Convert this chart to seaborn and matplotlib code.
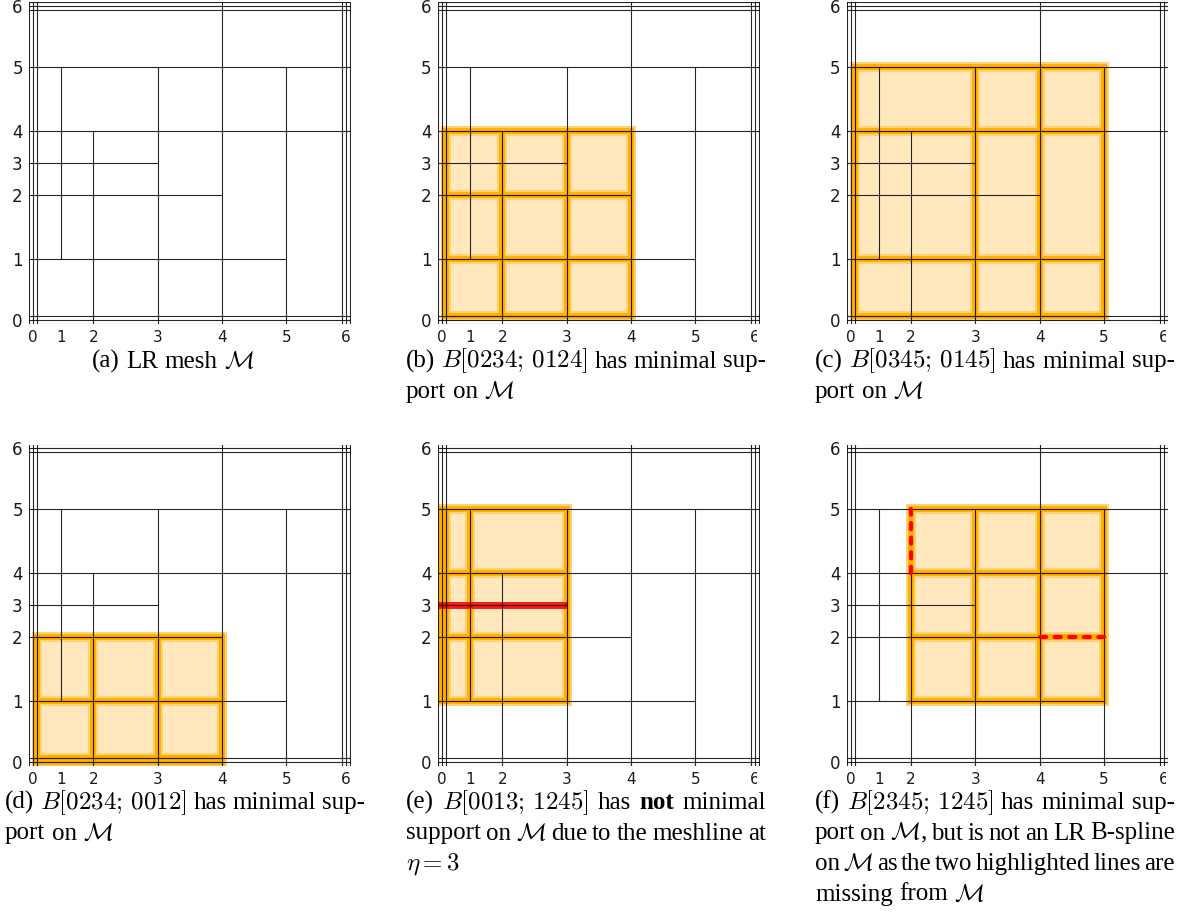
import numpy as np
import pandas as pd
import matplotlib
matplotlib.use("Agg")
import matplotlib.pyplot as plt
from matplotlib.patches import Rectangle
from matplotlib.transforms import Bbox, TransformedBbox
import seaborn as sns

# ---------------------------------------------------------------- data
# knot values of the LR mesh on [0,6] x [0,6]
knots = [0, 1, 2, 3, 4, 5, 6]
tick_labels = ["0", "1", "2", "3", "4", "5", "6"]

# horizontal meshlines: eta value, xi start, xi end
h_eta = [0, 1, 2, 3, 4, 5, 6]
h_from = [0, 0, 0, 0, 0, 0, 0]
h_to = [6, 5, 4, 3, 6, 6, 6]
# vertical meshlines: xi value, eta start, eta end
v_xi = [0, 1, 2, 3, 4, 5, 6]
v_from = [0, 1, 0, 0, 0, 0, 0]
v_to = [6, 5, 4, 5, 6, 5, 6]
boundary_multiplicity = 3

# local knot vectors of the B-spline shown in each panel (a has none)
spline_xi = [None, [0, 2, 3, 4], [0, 3, 4, 5], [0, 2, 3, 4], [0, 0, 1, 3], [2, 3, 4, 5]]
spline_eta = [None, [0, 1, 2, 4], [0, 1, 4, 5], [0, 0, 1, 2], [1, 2, 4, 5], [1, 2, 4, 5]]

# meshline at eta = 3 crossing the support in (e)
crossing_eta = 3
crossing_xi = [0, 3]
# lines missing from the mesh in (f): (xi start, xi end, eta start, eta end)
missing_xi0 = [2, 4]
missing_xi1 = [2, 5]
missing_eta0 = [4, 2]
missing_eta1 = [5, 2]

captions = [
    ["(a) LR mesh $\\mathcal{M}$"],
    ["(b) $B[0234;\\,0124]$ has minimal sup-", "port on $\\mathcal{M}$"],
    ["(c) $B[0345;\\,0145]$ has minimal sup-", "port on $\\mathcal{M}$"],
    ["(d) $B[0234;\\,0012]$ has minimal sup-", "port on $\\mathcal{M}$"],
    ["(e) $B[0013;\\,1245]$ has **not** minimal",
     "support on $\\mathcal{M}$ due to the meshline at",
     "$\\eta=3$"],
    ["(f) $B[2345;\\,1245]$ has minimal sup-",
     "port on $\\mathcal{M}$, but is not an LR B-spline",
     "on $\\mathcal{M}$ as the two highlighted lines are",
     "missing from $\\mathcal{M}$"],
]

# ---------------------------------------------------------------- layout
W, H = 1189, 915
x_place = [0.063, 0.5, 1.0, 2.0, 3.0, 4.0, 4.93]   # axis position of each knot
y_place = [0.06, 1.0, 2.0, 2.5, 3.0, 4.0, 4.94]
GAP = 0.062                                         # spacing of repeated boundary lines

ORANGE = "#FFB000"
RING = "#FFD27A"
FILL = "#FFE8BE"
RED = "#FF0000"
SERIF = "Liberation Serif"
CAP_FS = 18
LINE = 30.5

sns.set_theme(style="white")
plt.rcParams["font.family"] = ["DejaVu Sans"]
plt.rcParams["mathtext.fontset"] = "cm"


def line_end(v, place):
    """Meshline endpoint: boundary knots reach the outermost repeated line."""
    i = knots.index(v)
    p = place[i]
    if i == 0:
        return p - GAP
    if i == len(knots) - 1:
        return p + GAP
    return p


def support_pos(vec, place):
    """Position of local knots; repeated boundary knots step outwards."""
    out = []
    n_lo = vec.count(knots[0])
    seen_lo = seen_hi = 0
    for v in vec:
        p = place[knots.index(v)]
        if v == knots[0]:
            seen_lo += 1
            p += GAP * (1 - (n_lo - seen_lo))
        elif v == knots[-1]:
            seen_hi += 1
            p -= GAP * (1 - (seen_hi - 1))
        out.append(p)
    return out


def boundary_offsets(i):
    if i in (0, len(knots) - 1):
        return np.linspace(-GAP, GAP, boundary_multiplicity)
    return [0.0]


rows = []
seg = 0
for e, a, b in zip(h_eta, h_from, h_to):
    i = knots.index(e)
    for o in boundary_offsets(i):
        y = y_place[i] + o
        rows += [(seg, line_end(a, x_place), y), (seg, line_end(b, x_place), y)]
        seg += 1
for xv, a, b in zip(v_xi, v_from, v_to):
    i = knots.index(xv)
    for o in boundary_offsets(i):
        x = x_place[i] + o
        rows += [(seg, x, line_end(a, y_place)), (seg, x, line_end(b, y_place))]
        seg += 1
mesh = pd.DataFrame(rows, columns=["seg", "x", "y"])

fig = plt.figure(figsize=(W / 100, H / 100), dpi=100)

col_left = [29, 438, 846.7]
row_top = [2.5, 444.5]
AX_W, AX_H = 321.5, 321.0

axes = []
for k in range(6):
    r, c = divmod(k, 3)
    ax = fig.add_axes([col_left[c] / W, 1 - (row_top[r] + AX_H) / H, AX_W / W, AX_H / H])
    axes.append(ax)
    sns.lineplot(data=mesh, x="x", y="y", units="seg", estimator=None, sort=False,
                 color="black", lw=0.8, alpha=0.85, ax=ax, zorder=5)
    ax.set(xlabel="", ylabel="", xlim=(0, 5), ylim=(0, 5))
    ax.set_xticks(x_place, tick_labels)
    ax.set_yticks(y_place, tick_labels)
    ax.tick_params(axis="x", length=0, labelsize=11, pad=5, colors="#1a1a1a")
    ax.tick_params(axis="y", length=0, labelsize=12, pad=4.5, colors="#1a1a1a")
    for s in ax.spines.values():
        s.set_visible(False)
    ax.grid(False)

    if spline_xi[k] is not None:
        xs = support_pos(spline_xi[k], x_place)
        ys = support_pos(spline_eta[k], y_place)
        for x0, x1 in zip(xs[:-1], xs[1:]):
            for y0, y1 in zip(ys[:-1], ys[1:]):
                ax.add_patch(Rectangle((x0, y0), x1 - x0, y1 - y0, facecolor=FILL,
                                       edgecolor="none", zorder=1))
                ax.add_patch(Rectangle((x0, y0), x1 - x0, y1 - y0, facecolor="none",
                                       edgecolor=RING, lw=7.2, zorder=2))
                ax.add_patch(Rectangle((x0, y0), x1 - x0, y1 - y0, facecolor="none",
                                       edgecolor=ORANGE, lw=4.3, zorder=3))
    if c > 0:
        clip = TransformedBbox(Bbox([[-0.2, -0.2], [1.0 - 2.5 / AX_W, 1.2]]), ax.transAxes)
        for lab in ax.get_xticklabels():
            if lab.get_text() == tick_labels[-1]:
                lab.set_clip_box(clip)
                lab.set_clip_on(True)

# (e): the meshline crossing the support
ye = y_place[knots.index(crossing_eta)]
axes[4].plot([line_end(crossing_xi[0], x_place), x_place[knots.index(crossing_xi[1])]],
             [ye, ye], color=RED, lw=5.0, alpha=0.9, solid_capstyle="butt", zorder=4)

# (f): the two lines missing from the mesh
for a, b, c0, d in zip(missing_xi0, missing_xi1, missing_eta0, missing_eta1):
    axes[5].plot([x_place[knots.index(a)], x_place[knots.index(b)]],
                 [y_place[knots.index(c0)], y_place[knots.index(d)]],
                 color=RED, lw=3.0, dashes=(1.5, 2.0), dash_capstyle="round", zorder=6)

# ---------------------------------------------------------------- captions
renderer = fig.canvas.get_renderer()
cap_left = [None, 406, 815, 5, 406, 815]
cap_base = [367.5, 367.5, 367.5, 809.0, 809.0, 809.0]
CAP_W = 360
SPACE = 6.5


def words_of(line):
    out = []
    for w in line.split(" "):
        if w.startswith("**") and w.endswith("**"):
            out.append((w[2:-2], "bold"))
        else:
            out.append((w, "normal"))
    return out


for k, lines in enumerate(captions):
    for j, line in enumerate(lines):
        y = cap_base[k] + j * LINE
        arts = []
        for w, wt in words_of(line):
            arts.append(fig.text(0, 1 - y / H, w, fontsize=CAP_FS, family=SERIF,
                                 weight=wt, va="baseline", ha="left", color="black"))
        widths = [a.get_window_extent(renderer).width for a in arts]
        last = j == len(lines) - 1
        gap = SPACE if last else (CAP_W - sum(widths)) / (len(arts) - 1)
        total = sum(widths) + gap * (len(arts) - 1)
        x = 173 - total / 2 if cap_left[k] is None else cap_left[k]
        for a, wd in zip(arts, widths):
            a.set_x(x / W)
            x += wd + gap

fig.savefig("out.png", dpi=100)
